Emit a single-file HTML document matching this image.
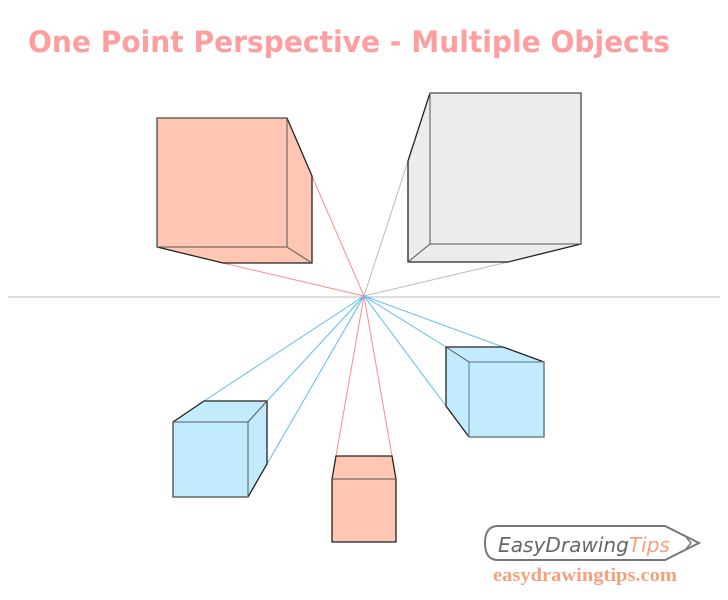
<!DOCTYPE html>
<html><head><meta charset="utf-8"><style>
html,body{margin:0;padding:0;background:#fff;width:728px;height:600px;overflow:hidden}
svg{display:block}
</style></head><body>
<svg width="728" height="600" viewBox="0 0 728 600">
<text x="28" y="52" fill="#ff9e9e" font-family="'Comic Sans MS','DejaVu Sans',sans-serif" font-weight="bold" font-size="29" textLength="642" lengthAdjust="spacingAndGlyphs">One Point Perspective - Multiple Objects</text>
<line x1="8" y1="297" x2="720" y2="297" stroke="#bbb" stroke-width="1"/>
<g stroke-width="1">
<line x1="364" y1="296" x2="312" y2="176" stroke="#ff8c8c"/>
<line x1="364" y1="296" x2="223" y2="263" stroke="#ff8c8c"/>
<line x1="364" y1="296" x2="408" y2="161" stroke="#bbb"/>
<line x1="364" y1="296" x2="508" y2="262" stroke="#bbb"/>
<line x1="364" y1="296" x2="204" y2="401" stroke="#5bbcf5"/>
<line x1="364" y1="296" x2="267" y2="401" stroke="#5bbcf5"/>
<line x1="364" y1="296" x2="267" y2="464" stroke="#5bbcf5"/>
<line x1="364" y1="296" x2="336" y2="456" stroke="#ff8c8c"/>
<line x1="364" y1="296" x2="392" y2="456" stroke="#ff8c8c"/>
<line x1="364" y1="296" x2="446" y2="347" stroke="#5bbcf5"/>
<line x1="364" y1="296" x2="503" y2="347" stroke="#5bbcf5"/>
<line x1="364" y1="296" x2="446" y2="406" stroke="#5bbcf5"/>
</g>
<g>
<polygon points="157,118 287,118 312,176 312,263 223,263 157,247" fill="#ffc6b4" stroke="#222" stroke-width="1.3"/>
<rect x="157" y="118" width="130" height="129" fill="none" stroke="#555" stroke-width="1"/>
<line x1="287" y1="247" x2="312" y2="263" stroke="#555"/>
</g>
<g>
<polygon points="430,93 581,93 581,244 508,262 408,262 408,161" fill="#ececec" stroke="#222" stroke-width="1.3"/>
<rect x="430" y="93" width="151" height="151" fill="none" stroke="#555" stroke-width="1"/>
<line x1="430" y1="244" x2="408" y2="262" stroke="#555"/>
</g>
<g>
<polygon points="173,422 204,401 267,401 267,464 248,497 173,497" fill="#c2ecfe" stroke="#222" stroke-width="1.3"/>
<rect x="173" y="422" width="75" height="75" fill="none" stroke="#555" stroke-width="1"/>
<line x1="248" y1="422" x2="267" y2="401" stroke="#555"/>
</g>
<g>
<polygon points="336,456 392,456 396,479 396,542 332,542 332,479" fill="#ffc6b4" stroke="#222" stroke-width="1.3"/>
<line x1="332" y1="479" x2="396" y2="479" stroke="#555"/>
</g>
<g>
<polygon points="446,347 503,347 544,362 544,437 469,437 446,406" fill="#c2ecfe" stroke="#222" stroke-width="1.3"/>
<rect x="469" y="362" width="75" height="75" fill="none" stroke="#6a8a98" stroke-width="1.2"/>
<line x1="446" y1="347" x2="469" y2="362" stroke="#555"/>
</g>
<g>
<path d="M498,526 L665,526 L699,543 L665,560 L498,560 Q485,560 485,543 Q485,526 498,526 Z" fill="#fff" stroke="#777" stroke-width="2"/>
<path d="M686,537 L691,543 L686,549" fill="none" stroke="#777" stroke-width="1.5"/>
<text x="498" y="552" font-family="'DejaVu Sans','Liberation Sans',sans-serif" font-style="italic" font-size="20" textLength="172" lengthAdjust="spacingAndGlyphs" fill="#666"><tspan>EasyDrawing</tspan><tspan fill="#f7a07a">Tips</tspan></text>
<text x="493" y="581" font-family="'Liberation Serif',serif" font-weight="bold" font-size="19" textLength="184" lengthAdjust="spacingAndGlyphs" fill="#f7a07a">easydrawingtips.com</text>
</g>
</svg>
</body></html>
